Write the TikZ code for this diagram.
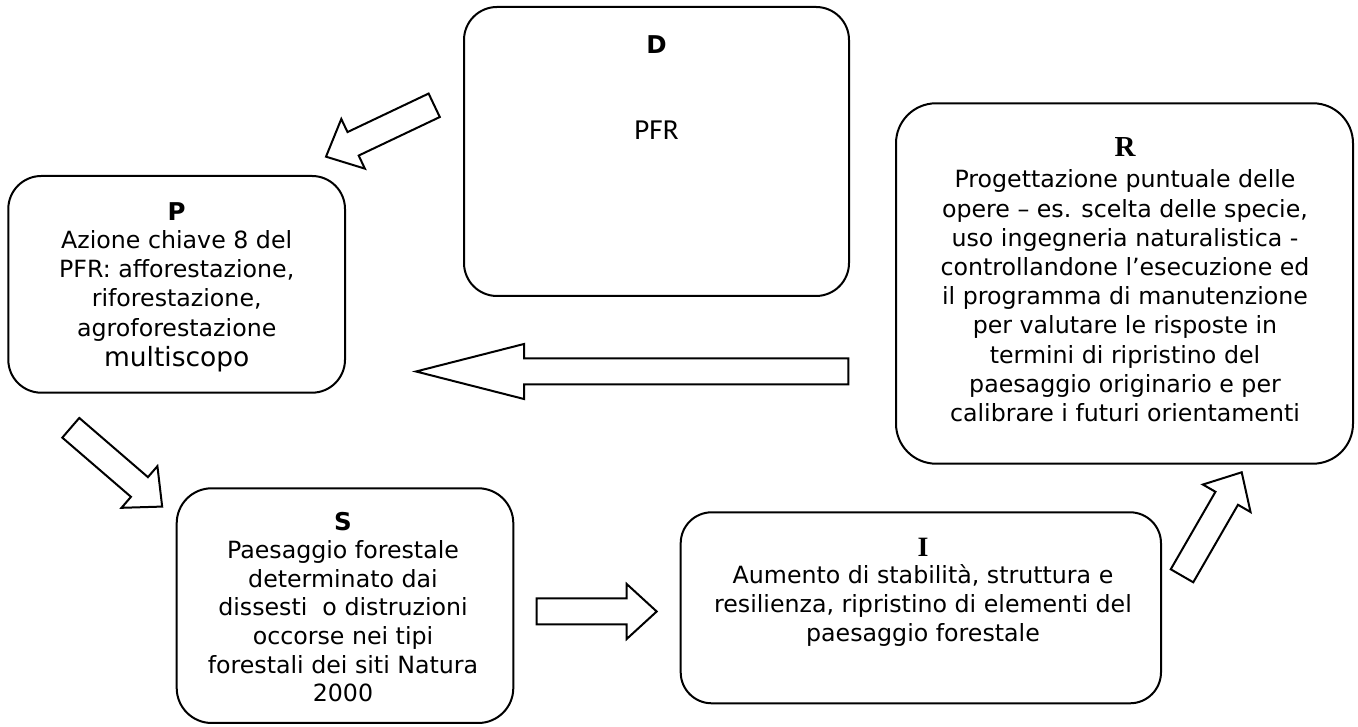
\documentclass[tikz,border=0pt]{standalone}
\usepackage{fontspec}
\setmainfont{DejaVu Sans}
\newfontfamily\headfont{Liberation Serif}
\newfontfamily\pfrfont{Carlito}
\usetikzlibrary{calc}

\tikzset{
  box/.style={draw, line width=2pt, rectangle, inner sep=0pt},
  boxtext/.style={anchor=north, inner sep=0pt, align=center,
    font=\fontsize{23.7}{29.2}\selectfont},
  arrowline/.style={draw, line width=2pt, fill=white, line join=miter},
}
% strut that fixes the top of each text block 30pt above its first baseline
\newcommand\firstline{\rule{0pt}{30pt}}
% hollow block arrow from tail point #1 to tip point #2, head length #3
\newcommand\blockarrow[3]{%
  \path[arrowline] let \p1=($(#2)-(#1)$), \n1={veclen(\x1,\y1)}, \n2={atan2(\y1,\x1)} in
    [shift={(#1)}, rotate=\n2]
    (0,13) -- (\n1-#3,13) -- (\n1-#3,27.5) -- (\n1,0) -- (\n1-#3,-27.5)
    -- (\n1-#3,-13) -- (0,-13) -- cycle;}

\begin{document}
\begin{tikzpicture}[x=1pt,y=1pt]
\useasboundingbox (0,0) rectangle (1358,727);
\fill[white] (0,0) rectangle (1358,727);

% boxes
\node[box, rounded corners=33pt, minimum width=385pt, minimum height=289pt] (D) at (656.5,575.5) {};
\node[box, rounded corners=33pt, minimum width=336.7pt, minimum height=216.7pt] (P) at (176.65,442.65) {};
\node[box, rounded corners=40pt, minimum width=457pt, minimum height=360.4pt] (R) at (1124.5,443.5) {};
\node[box, rounded corners=35pt, minimum width=336.6pt, minimum height=234.7pt] (S) at (345,121.35) {};
\node[box, rounded corners=31pt, minimum width=480.3pt, minimum height=191pt] (I) at (920.85,119.2) {};

% texts
\node[anchor=base, inner sep=0pt, font=\fontsize{24.5}{29.2}\selectfont\bfseries] (Dh) at (656.5,673.7) {D};
\node[anchor=base, inner sep=0pt, font=\pfrfont\fontsize{29}{34}\selectfont] (Dt) at (656.5,587) {PFR};

\node[boxtext] (Pt) at (176.7,537) {\firstline{\fontsize{24.5}{29.2}\selectfont\bfseries P}\\[-0.9pt]
  Azione chiave 8 del\\
  PFR: afforestazione,\\
  riforestazione,\\
  agroforestazione\\[1.5pt]
  {\fontsize{26.5}{30.8}\selectfont multiscopo}};

\node[boxtext] (Rt) at (1125,600.3) {\firstline{\headfont\fontsize{29}{33}\selectfont\bfseries R}\\[1.8pt]
  Progettazione puntuale delle\\
  opere – es. scelta delle specie,\\
  uso ingegneria naturalistica -\\
  controllandone l’esecuzione ed\\
  il programma di manutenzione\\
  per valutare le risposte in\\
  termini di ripristino del\\
  paesaggio originario e per\\
  calibrare i futuri orientamenti};

\node[boxtext, font=\fontsize{23.7}{28.7}\selectfont] (St) at (343,227) {\firstline{\fontsize{24.5}{28.7}\selectfont\bfseries S}\\[-0.4pt]
  Paesaggio forestale\\
  determinato dai\\
  dissesti\ \ o distruzioni\\
  occorse nei tipi\\
  forestali dei siti Natura\\
  2000};

\node[boxtext, font=\fontsize{23.7}{29}\selectfont] (It) at (923,201) {\firstline{\headfont\fontsize{28}{32}\selectfont\bfseries I}\\[-1.2pt]
  Aumento di stabilità, struttura e\\
  resilienza, ripristino di elementi del\\
  paesaggio forestale};

% block arrows
\coordinate (dpT) at (434.2,621.7);
\coordinate (dpH) at (326,570.3);
\coordinate (rpT) at (848.3,355.5);
\coordinate (rpH) at (416,355.5);
\coordinate (psT) at (70.8,299.2);
\coordinate (psH) at (162.3,220.3);
\coordinate (siT) at (536.5,115.5);
\coordinate (siH) at (656.7,115.5);
\coordinate (irT) at (1182,151.2);
\coordinate (irH) at (1241.7,254.7);

\blockarrow{dpT}{dpH}{30}
\blockarrow{rpT}{rpH}{108}
\blockarrow{psT}{psH}{30}
\blockarrow{siT}{siH}{30}
\blockarrow{irT}{irH}{30}
\end{tikzpicture}
\end{document}
